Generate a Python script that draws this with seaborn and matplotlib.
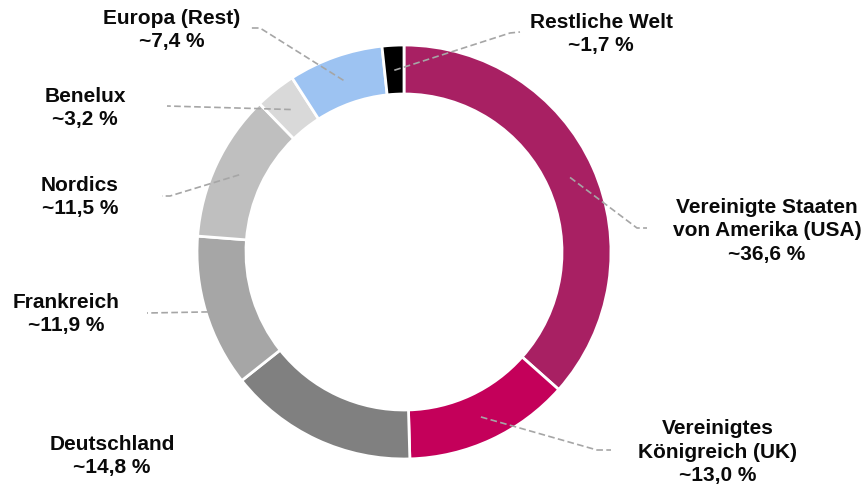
import matplotlib
matplotlib.use("Agg")
import matplotlib.pyplot as plt
import seaborn as sns
import numpy as np

# ---- data ----
categories = ["Vereinigte Staaten\nvon Amerika (USA)", "Vereinigtes\nKönigreich (UK)",
              "Deutschland", "Frankreich", "Nordics", "Benelux",
              "Europa (Rest)", "Restliche Welt"]
shares = [36.6, 13.0, 14.8, 11.9, 11.5, 3.2, 7.4, 1.7]
colors = ["#A82063", "#C4005A", "#808080", "#A6A6A6", "#BFBFBF", "#D9D9D9",
          "#9DC3F2", "#000000"]

# ---- layout (pixel coordinates, y downward) ----
W, H = 864, 488
cx, cy, R = 404, 252, 207
ring = 49
label_pos = [(767, 231), (718, 452), (112, 456), (66, 314), (80, 197),
             (85, 108), (172, 30), (601, 34)]
# (start radius, elbow point or None, end point) or None
leaders = [
    (182, (637, 228), (647, 228)),
    (182, (597, 450), (611, 450)),
    None,
    (205, None, (147, 313)),
    (182, (170, 196), (162, 196)),
    (182, None, (167, 106)),
    (182, (260, 28), (250, 28)),
    (182, (510, 33), (520, 32)),
]

sns.set_theme(style="white")
plt.rcParams["font.family"] = ["Liberation Sans", "DejaVu Sans"]

fig = plt.figure(figsize=(W / 100, H / 100), dpi=100)
ax = fig.add_axes([0, 0, 1, 1])

wedges, _ = ax.pie(shares, colors=colors, startangle=90, counterclock=False,
                   center=(cx, H - cy), radius=R,
                   wedgeprops=dict(width=ring, edgecolor="white", linewidth=2))

for w, lab, val, pos, ld in zip(wedges, categories, shares, label_pos, leaders):
    if ld is not None:
        r0, elbow, end = ld
        th = np.deg2rad((w.theta1 + w.theta2) / 2)
        xs = [cx + r0 * np.cos(th)]
        ys = [(H - cy) + r0 * np.sin(th)]
        if elbow is not None:
            xs.append(elbow[0]); ys.append(H - elbow[1])
        xs.append(end[0]); ys.append(H - end[1])
        ax.plot(xs, ys, color="#A6A6A6", lw=1.2, ls=(0, (4, 2)), zorder=5)
    txt = f"{lab}\n~{val:.1f} %".replace(".", ",")
    ax.text(pos[0], H - pos[1], txt, ha="center", va="center",
            fontsize=15, fontweight="bold", color="#0A0A0A", linespacing=1.3)

ax.set_xlim(0, W)
ax.set_ylim(0, H)
ax.set_aspect("equal")
ax.axis("off")

fig.savefig("out.png", dpi=100, facecolor="white")
